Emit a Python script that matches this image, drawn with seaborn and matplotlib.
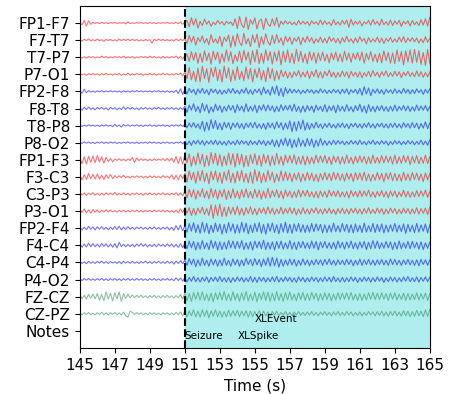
import numpy as np
import pandas as pd
import seaborn as sns
import matplotlib.pyplot as plt

# Bipolar montage channels, top to bottom
channels = ['FP1-F7', 'F7-T7', 'T7-P7', 'P7-O1',
            'FP2-F8', 'F8-T8', 'T8-P8', 'P8-O2',
            'FP1-F3', 'F3-C3', 'C3-P3', 'P3-O1',
            'FP2-F4', 'F4-C4', 'C4-P4', 'P4-O2',
            'FZ-CZ', 'CZ-PZ']
side = ['left'] * 4 + ['right'] * 4 + ['left'] * 4 + ['right'] * 4 + ['mid'] * 2

t_start = 145.0
t_step = 0.125          # seconds between samples
seizure_onset = 151.0
t_end = 165.0

# annotation track
note_labels = ['Seizure', 'XLSpike', 'XLEvent']
note_times = [151.0, 154.0, 155.0]

# signal samples (1/80 of the channel spacing), 8 samples per second
fp1_f7 = [4,-9,12,-14,10,-6,3,-2, 2,-3,4,-2,1,-3,2,-1, 3,-2,1,-1,2,-4,6,-3, 1,-2,2,-1,3,-2,1,-2,
          2,-1,1,-3,2,-1,2,-1, 3,-2,1,-2,4,-3,5,-6, 4,12,-18,25,-10,20,-24,8, -12,18,-6,10,-16,4,-8,12,
          -4,6,-10,8,-3,5,-12,20, -26,30,-8,-22,28,-30,16,-6, 24,-28,10,18,-30,22,-4,-16, 20,-12,26,-20,8,-6,10,-4,
          6,-8,4,-10,12,-6,8,-5, 7,-12,10,-4,6,-9,14,-8, 10,-6,4,-12,16,-8,6,-10, 12,-6,14,-20,18,-10,8,-6,
          10,-14,6,-4,12,-10,16,-6, 8,-12,18,-8,6,-10,14,-12, 10,-6,12,-16,8,-4,10,-14, 12,-8,6,-12,16,-10,20,-14, 26]
f7_t7 = [3,-5,4,-2,6,-4,2,-3, 5,-3,2,-6,4,-2,3,-4, 2,-5,6,-3,4,-2,5,-3, 4,-2,3,-5,2,-4,3,-2,
         2,-14,4,-3,5,-2,4,-3, 3,-4,2,-5,6,-3,4,-2, 6,-16,22,-10,18,-24,12,-8, 20,-14,8,-22,26,-12,6,-16,
         18,-30,14,-6,24,-34,20,-28, 30,-10,-26,32,-18,8,-30,24, -12,28,-34,16,-20,30,-8,-24, 22,-16,26,-12,10,-24,18,-8,
         14,-20,10,-6,16,-22,12,-10, 18,-8,12,-16,6,-10,14,-12, 8,-14,16,-6,10,-12,8,-16, 12,-10,18,-8,6,-14,10,-12,
         16,-6,8,-18,12,-10,6,-8, 14,-12,10,-16,8,-6,12,-10, 6,-10,14,-8,16,-12,10,-6, 12,-8,10,-14,6,-12,16,-10, 8]
t7_p7 = [3,-4,2,-5,4,-2,3,-4, 2,-3,5,-2,3,-4,2,-3, 4,-2,3,-3,5,-4,2,-2, 3,-5,2,-3,4,-2,3,-4,
         5,-2,3,-4,2,-5,4,-3, 2,-4,3,-2,5,-6,4,-8, 6,14,-20,26,-14,22,-28,18, -24,30,-16,20,-32,28,-12,24,
         -30,16,-22,34,-18,26,-30,12, -20,28,-26,32,-14,24,-34,30, -22,36,-30,18,-28,34,-16,26, -32,24,-18,30,-36,28,-22,34,
         -26,18,-30,36,-20,28,-24,16, -30,26,-14,22,-28,20,-16,24, -18,14,-26,20,-12,24,-20,16, -22,28,-14,20,-24,18,-10,22,
         -16,24,-28,18,-12,26,-20,14, -24,18,-26,30,-16,22,-28,20, -30,34,-20,26,-36,30,-22,34, -28,36,-24,30,-34,22,-38,36, -30]
p7_o1 = [4,-3,2,-5,3,-2,4,-3, 2,-4,3,-2,5,-3,2,-4, 3,-2,4,-5,2,-3,6,-4, 2,-3,4,-2,3,-5,2,-3,
         4,-2,3,-4,2,-3,5,-2, 3,-4,2,-3,4,-2,5,-6, 10,-20,32,-26,14,-34,28,-36, 38,-20,26,-38,30,-12,34,-30,
         22,-36,38,-18,30,-34,20,-28, 36,-24,14,-30,34,-22,28,-36, 24,-16,30,-26,18,-34,32,-20, 26,-30,16,-24,20,-12,14,-18,
         10,-16,12,-8,18,-14,10,-12, 16,-20,14,-10,22,-16,12,-18, 14,-8,20,-12,10,-16,8,-12, 16,-10,12,-18,14,-8,10,-14,
         12,-16,8,-10,14,-12,18,-8, 10,-14,12,-6,16,-12,8,-10, 14,-8,12,-16,10,-6,14,-10, 8,-12,16,-10,12,-14,8,-12, 10]
fp2_f8 = [3,-8,10,-6,4,-3,2,-4, 3,-2,4,-3,2,-2,3,-2, 2,-3,2,-4,3,-2,2,-3, 3,-2,4,-2,3,-3,2,-2,
          2,-3,3,-2,4,-3,2,-4, 3,-4,2,-5,6,-10,12,-14, 8,-12,14,-6,10,-16,12,-8, 14,-10,8,-16,12,-6,10,-12,
          8,-14,6,-10,12,-8,14,-10, 6,-12,10,-8,16,-12,8,-14, 10,-6,12,-16,20,-10,8,-18, 22,-12,26,-20,14,-24,18,-10,
          12,-8,10,-6,8,-12,6,-8, 10,-6,8,-10,6,-8,12,-6, 8,-10,6,-8,10,-6,8,-12, 10,-8,12,-14,8,-6,10,-12,
          14,-18,22,-12,16,-20,10,-8, 12,-10,8,-14,10,-6,8,-10, 12,-8,6,-10,14,-8,10,-12, 8,-10,12,-6,8,-14,10,-8, 12]
f8_t8 = [4,-8,6,-5,7,-4,3,-6, 5,-3,6,-4,3,-7,5,-3, 4,-6,3,-5,8,-4,6,-3, 5,-4,3,-6,4,-3,5,-4,
         3,-5,4,-3,6,-4,3,-5, 4,-3,5,-4,3,-6,4,-5, 10,-18,16,-8,22,-14,10,-20, 24,-12,18,-22,8,-16,20,-10,
         14,-18,10,-12,16,-8,14,-20, 18,-10,12,-16,22,-14,10,-12, 16,-20,14,-8,18,-12,16,-10, 12,-16,10,-14,18,-10,14,-8,
         16,-12,20,-14,10,-18,12,-16, 14,-10,12,-18,16,-8,10,-14, 18,-16,12,-10,14,-20,16,-12, 10,-14,18,-12,8,-16,14,-10,
         20,-16,12,-22,18,-14,10,-16, 12,-10,14,-12,8,-14,10,-12, 16,-12,10,-8,14,-10,12,-14, 8,-12,16,-10,12,-8,14,-12, 10]
t8_p8 = [3,-4,2,-3,4,-2,3,-3, 2,-4,3,-2,4,-3,2,-5, 6,-4,3,-7,5,-2,4,-3, 3,-2,4,-3,2,-4,3,-2,
         4,-3,2,-4,3,-2,4,-3, 2,-4,3,-2,4,-3,5,-4, 6,-10,12,-8,14,-10,8,-16, 20,-26,16,-22,28,-14,24,-18,
         12,-20,16,-10,14,-18,12,-8, 14,-12,10,-16,12,-8,14,-10, 16,-12,8,-14,10,-18,14,-10, 12,-16,18,-10,14,-20,12,-16,
         22,-28,18,-24,20,-16,26,-22, 14,-18,10,-12,16,-10,8,-14, 10,-8,12,-10,6,-12,10,-8, 12,-10,8,-14,10,-6,12,-10,
         8,-12,10,-8,14,-10,8,-12, 10,-6,12,-10,8,-12,10,-8, 12,-10,8,-12,14,-8,10,-12, 14,-10,12,-16,10,-12,18,-14, 12]
p8_o2 = [2,-3,4,-2,3,-3,2,-4, 3,-2,4,-3,2,-3,4,-2, 3,-4,2,-3,3,-2,4,-3, 2,-3,3,-4,2,-2,3,-3,
         4,-2,3,-3,2,-4,3,-2, 3,-3,2,-4,3,-2,4,-5, 6,-10,8,-12,10,-6,12,-8, 10,-12,8,-6,10,-8,12,-10,
         8,-10,6,-12,10,-8,6,-10, 12,-8,10,-6,8,-12,10,-8, 6,-10,12,-8,10,-14,8,-10, 14,-18,12,-20,16,-12,22,-16,
         18,-24,14,-20,22,-16,12,-18, 20,-14,18,-22,12,-16,20,-12, 10,-12,8,-10,12,-8,10,-6, 8,-10,6,-8,10,-6,8,-10,
         12,-8,6,-10,8,-6,12,-8, 6,-8,10,-6,8,-12,6,-8, 10,-6,8,-10,6,-8,10,-6, 8,-10,6,-8,12,-10,8,-12, 14]
fp1_f3 = [10,-18,14,-20,16,-12,18,-14, 20,-10,14,-16,12,-8,6,-10, 4,-3,5,-4,3,-5,4,-3, 10,-12,8,-4,5,-3,4,-5,
          3,-4,5,-3,4,-2,5,-4, 6,-5,8,-12,16,-18,14,-20, 22,-14,28,-30,16,-24,32,-20, 26,-32,20,-28,34,-18,30,-26,
          24,-30,18,-26,32,-22,28,-34, 30,-22,26,-34,20,-30,24,-18, 28,-24,20,-30,26,-16,22,-28, 18,-24,30,-20,16,-26,22,-14,
          20,-16,24,-22,14,-20,18,-24, 16,-20,12,-18,22,-14,18,-12, 20,-16,14,-22,18,-12,16,-20, 14,-18,22,-16,12,-20,16,-14,
          18,-12,16,-20,14,-18,22,-16, 12,-16,20,-14,18,-12,16,-20, 22,-18,14,-16,20,-12,18,-22, 16,-14,20,-18,12,-16,22,-18, 14]
f3_c3 = [8,-14,10,-12,16,-8,12,-10, 14,-10,8,-12,10,-6,12,-8, 6,-4,5,-3,8,-4,3,-5, 4,-3,5,-2,4,-5,3,-4,
         5,-3,4,-4,3,-5,6,-3, 4,-6,10,-12,8,-14,10,-8, 16,-24,28,-14,22,-30,26,-18, 30,-22,18,-32,26,-14,28,-24,
         20,-30,24,-16,32,-26,18,-28, 26,-18,30,-24,16,-28,22,-30, 34,-20,26,-28,18,-24,30,-16, 22,-26,14,-20,28,-18,24,-16,
         18,-22,16,-14,20,-24,14,-18, 22,-16,18,-20,12,-22,16,-14, 20,-14,16,-18,22,-12,18,-16, 14,-20,18,-12,16,-22,20,-14,
         18,-16,22,-18,14,-20,12,-16, 20,-14,16,-22,18,-12,20,-18, 16,-18,12,-20,22,-16,14,-18, 20,-12,18,-16,14,-22,18,-14, 16]
c3_p3 = [6,-4,5,-7,4,-3,6,-5, 3,-6,4,-5,6,-3,5,-4, 7,-5,3,-4,6,-4,3,-6, 4,-3,5,-4,3,-6,4,-3,
         5,-4,3,-5,4,-3,6,-4, 3,-5,4,-3,6,-7,5,-8, 12,-18,22,-14,20,-24,16,-12, 24,-18,14,-22,26,-16,20,-24,
         18,-14,22,-26,16,-20,24,-18, 14,-22,20,-16,24,-18,12,-20, 22,-16,18,-24,14,-20,26,-18, 16,-12,20,-18,14,-22,18,-12,
         14,-18,12,-16,20,-14,16,-10, 18,-14,10,-16,12,-18,14,-12, 12,-16,18,-10,14,-12,16,-14, 10,-14,12,-18,16,-10,12,-14,
         16,-12,14,-10,18,-14,10,-16, 12,-10,16,-14,12,-18,14,-10, 14,-16,10,-12,18,-14,12,-16, 10,-14,16,-12,14,-10,18,-16, 12]
p3_o1 = [8,-6,10,-8,6,-9,7,-5, 6,-8,5,-4,6,-3,5,-4, 3,-5,4,-3,5,-4,3,-4, 4,-3,5,-4,3,-5,4,-3,
         3,-4,5,-3,4,-3,5,-4, 4,-5,3,-6,5,-8,10,-6, 14,-10,16,-20,12,-18,14,-10, 18,-16,12,-20,30,-34,28,-22,
         32,-26,18,-24,20,-14,18,-16, 22,-18,14,-20,16,-12,20,-16, 12,-18,14,-10,16,-14,20,-12, 14,-16,10,-12,18,-14,12,-10,
         16,-12,14,-18,10,-14,16,-12, 10,-14,12,-8,16,-12,10,-14, 12,-10,14,-12,8,-16,12,-10, 14,-12,10,-14,12,-8,14,-12,
         10,-14,12,-10,16,-12,8,-12, 14,-10,12,-16,10,-12,14,-8, 12,-14,8,-12,14,-10,12,-14, 10,-12,16,-14,12,-10,14,-16, 18]
fp2_f4 = [6,-8,5,-7,9,-5,6,-8, 7,-5,8,-6,4,-7,5,-6, 8,-6,10,-8,5,-6,7,-5, 4,-6,5,-3,6,-5,4,-6,
          5,-4,6,-5,3,-6,5,-4, 6,-8,5,-10,12,-8,14,-12, 10,-18,22,-14,26,-20,16,-24, 28,-18,22,-26,14,-20,24,-16,
          20,-28,18,-22,26,-14,20,-24, 16,-22,28,-18,24,-26,14,-20, 22,-16,26,-24,18,-28,22,-14, 24,-20,16,-26,22,-18,28,-22,
          18,-24,20,-14,22,-18,16,-20, 14,-18,22,-16,20,-12,18,-22, 16,-20,14,-18,24,-16,12,-18, 22,-14,18,-20,16,-22,20,-16,
          14,-20,24,-18,12,-16,22,-20, 18,-16,20,-22,14,-18,16,-14, 22,-18,14,-16,20,-24,18,-16, 14,-20,22,-18,16,-14,20,-22, 16]
f4_c4 = [7,-9,6,-8,10,-6,8,-7, 6,-8,9,-5,7,-8,6,-9, 8,-12,14,-6,5,-7,4,-6, 5,-7,6,-4,8,-5,6,-7,
         4,-6,5,-7,6,-4,5,-6, 7,-5,6,-8,5,-10,8,-12, 10,-16,20,-12,18,-22,14,-18, 22,-16,12,-20,24,-14,18,-22,
         16,-20,14,-18,22,-12,20,-16, 18,-14,22,-20,12,-18,16,-22, 20,-12,18,-16,24,-20,14,-18, 16,-22,18,-14,20,-18,12,-16,
         22,-18,14,-20,16,-12,18,-14, 12,-16,20,-14,18,-22,16,-12, 18,-14,12,-16,14,-18,20,-12, 14,-18,16,-12,20,-16,12,-18,
         16,-12,18,-20,14,-16,22,-14, 20,-16,12,-14,18,-12,16,-20, 14,-18,20,-16,12,-14,18,-16, 18,-12,14,-18,16,-20,12,-14, 16]
c4_p4 = [4,-5,3,-6,5,-4,3,-5, 5,-3,6,-4,3,-5,4,-3, 3,-5,4,-6,5,-3,4,-4, 5,-4,3,-5,4,-3,6,-4,
         3,-5,4,-3,5,-4,3,-5, 6,-4,5,-8,6,-5,8,-6, 10,-14,18,-10,16,-20,12,-16, 20,-14,10,-18,16,-12,14,-18,
         12,-16,20,-14,10,-18,16,-12, 14,-18,12,-16,20,-10,14,-16, 18,-12,14,-20,16,-14,22,-18, 24,-16,20,-22,14,-18,12,-14,
         16,-12,14,-18,10,-14,16,-12, 12,-16,10,-12,14,-10,12,-14, 14,-10,16,-12,10,-14,12,-10, 10,-12,14,-10,12,-16,10,-12,
         16,-14,12,-10,14,-12,10,-14, 12,-10,14,-12,10,-14,16,-10, 14,-12,10,-14,12,-10,14,-12, 10,-14,12,-16,14,-10,12,-14, 12]
p4_o2 = [3,-5,4,-3,5,-4,3,-4, 4,-3,5,-4,3,-5,4,-3, 5,-4,3,-5,4,-3,5,-4, 3,-4,5,-3,4,-4,3,-5,
         4,-3,5,-4,3,-5,4,-3, 5,-4,3,-6,8,-5,7,-8, 8,-12,10,-8,14,-10,8,-12, 10,-8,12,-14,10,-8,12,-10,
         14,-10,8,-12,10,-14,8,-10, 12,-8,10,-12,8,-10,14,-12, 10,-14,12,-8,10,-12,8,-10, 12,-10,14,-12,8,-10,12,-8,
         10,-12,8,-14,12,-8,10,-12, 8,-10,12,-8,10,-12,8,-10, 12,-8,10,-12,14,-10,8,-12, 10,-12,8,-10,12,-8,10,-14,
         8,-10,12,-8,10,-12,8,-10, 12,-8,10,-14,8,-10,12,-8, 10,-12,8,-10,12,-8,14,-10, 8,-10,12,-12,10,-8,12,-10, 10]
fz_cz = [8,-10,6,-12,10,-8,12,-10, 14,-18,10,-20,22,-12,16,-20, 18,-10,22,-24,14,-8,12,-6, 8,-5,6,-4,7,-5,4,-6,
         5,-4,6,-5,4,-6,5,-4, 6,-5,4,-7,5,-6,10,-12, 16,-20,14,-22,18,-12,20,-16, 22,-18,12,-20,16,-24,18,-14,
         20,-16,24,-18,12,-20,22,-16, 14,-22,18,-16,24,-20,12,-18, 20,-24,16,-14,22,-18,20,-22, 16,-20,24,-18,14,-22,18,-16,
         22,-16,12,-20,18,-14,20,-18, 14,-18,20,-12,16,-20,14,-16, 18,-14,16,-20,12,-16,18,-14, 16,-12,18,-14,20,-16,12,-18,
         14,-18,12,-16,18,-12,20,-14, 16,-14,18,-12,14,-18,16,-12, 18,-16,12,-14,16,-18,14,-16, 12,-14,18,-16,14,-12,16,-18, 14]
cz_pz = [4,-6,5,-4,6,-5,3,-6, 5,-4,7,-5,4,-6,5,-3, 6,-5,4,-6,8,-10,-16,12, 6,-4,5,-3,4,-5,3,-4,
         5,-3,4,-4,3,-5,4,-3, 4,-5,3,-4,6,-5,8,-10, 12,-16,14,-10,18,-14,12,-16, 18,-12,16,-20,14,-12,18,-14,
         12,-16,10,-14,16,-12,14,-10, 16,-14,12,-10,14,-16,12,-14, 10,-12,14,-8,12,-10,8,-12, 10,-8,12,-10,6,-8,10,-8,
         6,-10,8,-6,10,-8,6,-8, 8,-6,10,-8,6,-10,8,-6, 10,-8,6,-10,8,-6,10,-8, 6,-8,10,-6,8,-10,6,-8,
         8,-10,6,-8,10,-6,8,-10, 10,-8,12,-10,8,-12,10,-8, 12,-10,8,-12,14,-10,12,-14, 10,-12,16,-10,12,-14,18,-12, 20]

signals = [fp1_f7, f7_t7, t7_p7, p7_o1, fp2_f8, f8_t8, t8_p8, p8_o2,
           fp1_f3, f3_c3, c3_p3, p3_o1, fp2_f4, f4_c4, c4_p4, p4_o2,
           fz_cz, cz_pz]

side_colors = {'left': 'red', 'right': 'blue', 'mid': 'seagreen'}

# long-form table, each channel stacked on its own row
n_rows = len(channels) + 1
frames = []
for i, (name, sig) in enumerate(zip(channels, signals)):
    vals = np.array(sig, dtype=float)
    frames.append(pd.DataFrame({
        'time': t_start + t_step * np.arange(len(vals)),
        'channel': name,
        'y': (n_rows - 1 - i) + vals / 80.0,
    }))
df = pd.concat(frames, ignore_index=True)
palette = {name: side_colors[s] for name, s in zip(channels, side)}

fig = plt.figure(figsize=(4.51, 3.94), dpi=100)
ax = fig.add_axes([0.177, 0.117, 0.776, 0.868])

ax.axvspan(seizure_onset, t_end, color='paleturquoise', zorder=0)
sns.lineplot(data=df, x='time', y='y', hue='channel', palette=palette,
             estimator=None, sort=False, legend=False, linewidth=0.8,
             alpha=0.55, ax=ax)
ax.axvline(seizure_onset, color='black', linestyle='--', linewidth=1.5)

# notes row: labels hang below their row line
note_rows = [0, 0, 1]
for lab, tt, row in zip(note_labels, note_times, note_rows):
    ax.text(tt, row, lab, fontsize=7.5, va='top', ha='left')

ax.set_yticks(range(n_rows - 1, -1, -1))
ax.set_yticklabels(channels + ['Notes'], fontsize=11)
ax.set_ylim(-1, n_rows)
ax.set_xlim(t_start, t_end)
ax.set_xticks(np.arange(145, 166, 2))
ax.tick_params(axis='x', labelsize=11)
ax.set_xlabel('Time (s)', fontsize=11)
ax.set_ylabel('')

fig.savefig('out.png', dpi=100)
